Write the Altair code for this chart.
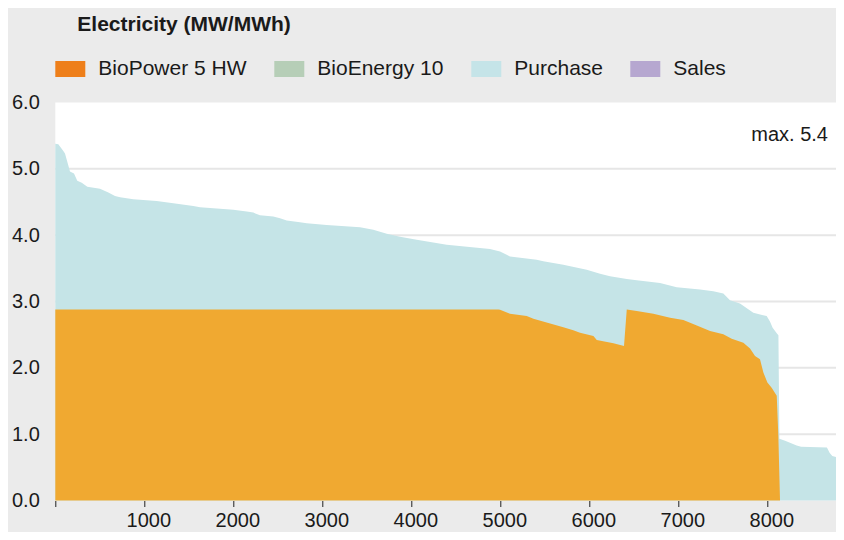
import altair as alt
import pandas as pd

# ---- data (load duration curves, hours of year) ----
series_names = ["BioPower 5 HW", "BioEnergy 10", "Purchase", "Sales"]
legend_colors = ["#EE7F1A", "#B6CEB7", "#C5E4E8", "#B6A7D0"]
area_colors = ["#F0A931", "#C5E4E7"]  # BioPower fill, Purchase fill

# top envelope (BioPower + Purchase)
demand_hours = [0, 34, 90, 109, 165, 210, 247, 297, 360, 502, 596, 671, 728, 876, 1139,
                1326, 1551, 1626, 1926, 2000, 2151, 2225, 2300, 2449, 2525, 2600, 2749,
                2825, 3049, 3424, 3573, 3724, 3874, 4061, 4398, 4884, 4997, 5109, 5409,
                5483, 5708, 5971, 6121, 6233, 6421, 6533, 6795, 6982, 7244, 7393, 7506,
                7581, 7693, 7843, 7993, 8030, 8060, 8106, 8125, 8136, 8200, 8330, 8380,
                8670, 8700, 8730, 8772]
demand_values = [5.38, 5.37, 5.27, 5.23, 4.96, 4.93, 4.82, 4.79, 4.73, 4.70, 4.645, 4.59,
                 4.57, 4.54, 4.515, 4.48, 4.44, 4.42, 4.39, 4.385, 4.355, 4.34, 4.30, 4.28,
                 4.255, 4.22, 4.195, 4.18, 4.155, 4.12, 4.08, 4.02, 3.975, 3.93, 3.855,
                 3.79, 3.755, 3.68, 3.63, 3.605, 3.555, 3.48, 3.42, 3.38, 3.34, 3.32, 3.28,
                 3.215, 3.18, 3.155, 3.12, 3.02, 2.97, 2.83, 2.78, 2.70, 2.605, 2.52, 2.49,
                 0.93, 0.90, 0.83, 0.81, 0.80, 0.72, 0.67, 0.655]

# BioPower 5 HW output
bio_hours = [0, 4979, 4997, 5109, 5297, 5372, 5560, 5708, 5820, 5896, 6046, 6084, 6271,
             6390, 6421, 6533, 6720, 6908, 7057, 7208, 7357, 7506, 7600, 7731, 7806, 7862,
             7918, 7956, 8001, 8049, 8106, 8124, 8143]
bio_values = [2.88, 2.88, 2.875, 2.815, 2.78, 2.74, 2.67, 2.61, 2.565, 2.53, 2.48, 2.42,
              2.37, 2.33, 2.88, 2.855, 2.815, 2.755, 2.72, 2.64, 2.555, 2.505, 2.44, 2.38,
              2.29, 2.18, 2.13, 1.93, 1.78, 1.70, 1.58, 0.98, 0.0]

x_max = 8772
x_tick_values = [0, 1000, 2000, 3000, 4000, 5000, 6000, 7000, 8000]
y_tick_values = [0, 1, 2, 3, 4, 5, 6]
grid_values = [1, 2, 3, 4, 5]

FONT = "Liberation Sans"
TXT = "#1a1a1a"
W, H = 780.7, 398

demand = pd.DataFrame({"hour": demand_hours, "value": demand_values})
bio = pd.DataFrame({"hour": bio_hours, "value": bio_values})
legend_df = pd.DataFrame({"series": series_names})
grid_df = pd.DataFrame({"value": grid_values})
max_val = max(demand_values)
ann_df = pd.DataFrame({"label": [f"max. {max_val:.1f}"], "value": [round(max_val, 1)]})

x_scale = alt.Scale(domain=[0, x_max], nice=False, zero=False)
y_scale = alt.Scale(domain=[0, 6], nice=False)

x_axis = alt.Axis(values=x_tick_values, format="d",
                  labelExpr="datum.value == 0 ? '' : datum.label",
                  grid=False, domain=False, ticks=True, tickSize=6, tickColor="#222222",
                  tickWidth=1, labelFontSize=20, labelPadding=4, labelOffset=4,
                  labelColor=TXT, labelFont=FONT, title=None)
y_axis = alt.Axis(values=y_tick_values, format=".1f", grid=False, ticks=False,
                  domain=False, labelFontSize=20, labelPadding=16, labelColor=TXT,
                  labelFont=FONT, title=None)

X = alt.X("hour:Q", scale=x_scale, axis=x_axis)
Y = alt.Y("value:Q", scale=y_scale, axis=y_axis)

# white plot panel
panel = alt.Chart(ann_df).mark_rect(color="white").encode(
    x=alt.value(0), x2=alt.value(W), y=alt.value(0), y2=alt.value(H)
)
grid = alt.Chart(grid_df).mark_rule(color="#e6e6e6", strokeWidth=2).encode(
    y=Y, x=alt.value(0), x2=alt.value(W)
)

purchase_area = alt.Chart(demand).mark_area(color=area_colors[1], opacity=1).encode(x=X, y=Y)
bio_area = alt.Chart(bio).mark_area(color=area_colors[0], opacity=1).encode(x=X, y=Y)

ann = alt.Chart(ann_df).mark_text(align="right", baseline="alphabetic", fontSize=20,
                                  dx=-8, dy=-1, color=TXT, font=FONT).encode(
    x=alt.value(W), y=Y, text="label:N",
)

legend_layer = alt.Chart(legend_df).mark_point(filled=True, opacity=0).encode(
    color=alt.Color(
        "series:N",
        sort=series_names,
        scale=alt.Scale(domain=series_names, range=legend_colors),
        legend=alt.Legend(
            orient="none", legendX=0, legendY=-48.5, direction="horizontal",
            columns=4, title=None, symbolType="M-1,-0.5333H1V0.5333H-1Z",
            symbolSize=900, symbolStrokeWidth=0, symbolOpacity=1,
            labelFontSize=21, labelFont=FONT, labelColor=TXT, labelOffset=13,
            columnPadding=27, padding=0,
        ),
    )
)

chart = alt.layer(panel, grid, purchase_area, bio_area, ann, legend_layer).properties(
    width=W,
    height=H,
    autosize=alt.AutoSizeParams(type="none"),
    padding={"left": 47.3, "top": 94.5, "right": 0, "bottom": 31.5},
    title=alt.TitleParams(
        "Electricity (MW/MWh)", anchor="start", frame="group", fontSize=21,
        fontWeight="bold", font=FONT, color=TXT, dx=22, dy=-2, offset=0,
        baseline="alphabetic",
    ),
).configure(background="#ebebeb").configure_view(fill="white", stroke=None)

chart.save("out.html", embed_options={"renderer": "svg", "actions": False})
